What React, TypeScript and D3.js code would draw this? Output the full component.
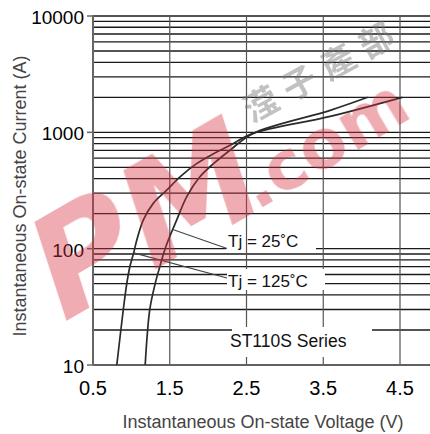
import React from "react";
import * as d3 from "d3";

const yMajors = [10, 100, 1000, 10000];
const yMajorLabels = ["10", "100", "1000", "10000"];
const xTicks = [0.5, 1.5, 2.5, 3.5, 4.5];
const xTickLabels = ["0.5", "1.5", "2.5", "3.5", "4.5"];

const tj125V = [0.81, 0.895, 0.94, 0.98, 1.03, 1.07, 1.155, 1.285, 1.46, 1.63, 1.85, 2.07, 2.285, 2.585, 3.59, 4.53];
const tj125I = [10, 30, 50, 70, 92, 118, 176, 245, 318, 413, 538, 656, 773, 979, 1371, 2000];
const tj25V = [1.18, 1.24, 1.31, 1.37, 1.42, 1.48, 1.59, 1.72, 1.89, 2.07, 2.285, 2.585, 3.59, 4.08];
const tj25I = [10, 30, 50, 70, 91, 118, 176, 279, 413, 538, 702, 979, 1545, 2000];

const label25 = "Tj = 25˚C";
const label125 = "Tj = 125˚C";
const seriesLabel = "ST110S Series";
const xTitle = "Instantaneous On-state Voltage (V)";
const yTitle = "Instantaneous On-state Current (A)";
const markLogo = "PM";
const markDomain = ".com";
const markChinese = "滢子產部";

export default function App() {
  const W = 430, H = 434;
  const x = d3.scaleLinear().domain([0.5, 4.5]).range([93, 400]);
  const y = d3.scaleLog().domain([10, 10000]).range([365, 16]);
  const xRight = 430;

  const minors: number[] = [];
  for (let d = 10; d < 10000; d *= 10) {
    for (let k = 1; k <= 10; k++) minors.push(d * k);
  }
  const hLines = Array.from(new Set(minors)).filter((v) => v >= 10 && v <= 10000);

  const line = d3
    .line<[number, number]>()
    .x((d) => x(d[0]))
    .y((d) => y(d[1]))
    .curve(d3.curveCatmullRom.alpha(0.5));

  const p125 = line(tj125V.map((v, i) => [v, tj125I[i]] as [number, number])) || "";
  const p25 = line(tj25V.map((v, i) => [v, tj25I[i]] as [number, number])) || "";

  const font = "'Liberation Sans', Arial, sans-serif";

  return (
    <svg width={W} height={H} style={{ position: "absolute", left: 0, top: 0, background: "#fff" }} fontFamily={font}>
      <rect x={0} y={0} width={W} height={H} fill="#fff" />
      {hLines.map((v, i) => (
        <line key={"h" + i} x1={x(0.5)} x2={xRight} y1={y(v)} y2={y(v)} stroke="#1a1a1a" strokeWidth={1.3} />
      ))}
      <rect x={226} y={234} width={90} height={18} fill="#fff" />
      {xTicks.slice(1).map((v, i) => (
        <line key={"v" + i} x1={x(v)} x2={x(v)} y1={y(10000)} y2={y(10)} stroke="#555" strokeWidth={1.2} />
      ))}
      <rect x={227} y={269} width={98} height={21} fill="#fff" />
      <rect x={232} y={327} width={140} height={30} fill="#fff" />
      <line x1={x(0.5)} x2={x(0.5)} y1={y(10000) - 1} y2={y(10)} stroke="#666" strokeWidth={2} />
      <line x1={x(0.5)} x2={xRight} y1={y(10)} y2={y(10)} stroke="#666" strokeWidth={1.6} />
      {yMajors.map((v, i) => (
        <line key={"t" + i} x1={87} x2={x(0.5)} y1={y(v)} y2={y(v)} stroke="#666" strokeWidth={1.5} />
      ))}
      <path d={p125} fill="none" stroke="#2a2a2a" strokeWidth={1.7} />
      <path d={p25} fill="none" stroke="#2a2a2a" strokeWidth={1.7} />
      <line x1={x(1.53)} y1={y(147)} x2={227} y2={248.5} stroke="#444" strokeWidth={1.1} />
      <line x1={x(1.03)} y1={y(92)} x2={227} y2={278} stroke="#444" strokeWidth={1.1} />
      <text x={228} y={247} fontSize={17} fill="#111">{label25}</text>
      <text x={228} y={287} fontSize={17} fill="#111">{label125}</text>
      <text x={230} y={347} fontSize={17.5} fill="#111">{seriesLabel}</text>
      {yMajors.map((v, i) => (
        <text key={"yl" + i} x={84} y={y(v) + 8} fontSize={19} textAnchor="end" fill="#000">
          {yMajorLabels[i]}
        </text>
      ))}
      {xTicks.map((v, i) => (
        <text key={"xl" + i} x={x(v)} y={395} fontSize={20} textAnchor="middle" fill="#000">
          {xTickLabels[i]}
        </text>
      ))}
      <text x={263} y={427.5} fontSize={18} textAnchor="middle" fill="#444">{xTitle}</text>
      <text transform={`translate(26,196) rotate(-90)`} fontSize={18} textAnchor="middle" fill="#444">{yTitle}</text>
      <g opacity={0.4}>
        <text transform="translate(145,220) rotate(-30) skewX(-12)" fontSize={140} fontWeight={700}
          fontFamily="'DejaVu Sans', sans-serif" textAnchor="middle" dominantBaseline="central" fill="#d6303f">{markLogo}</text>
        <text transform="translate(323,143) rotate(-31)" fontSize={68} fontWeight={700}
          fontFamily="'DejaVu Sans', sans-serif" textAnchor="middle" dominantBaseline="central" fill="#d6303f">{markDomain}</text>
      </g>
      <g opacity={0.45}>
        <text transform="translate(322,68) rotate(-29)" fontSize={34} fontWeight={700} fontFamily="'Noto Sans CJK SC', sans-serif"
          textAnchor="middle" dominantBaseline="central" fill="#777" letterSpacing={10}>{markChinese}</text>
      </g>
    </svg>
  );
}
